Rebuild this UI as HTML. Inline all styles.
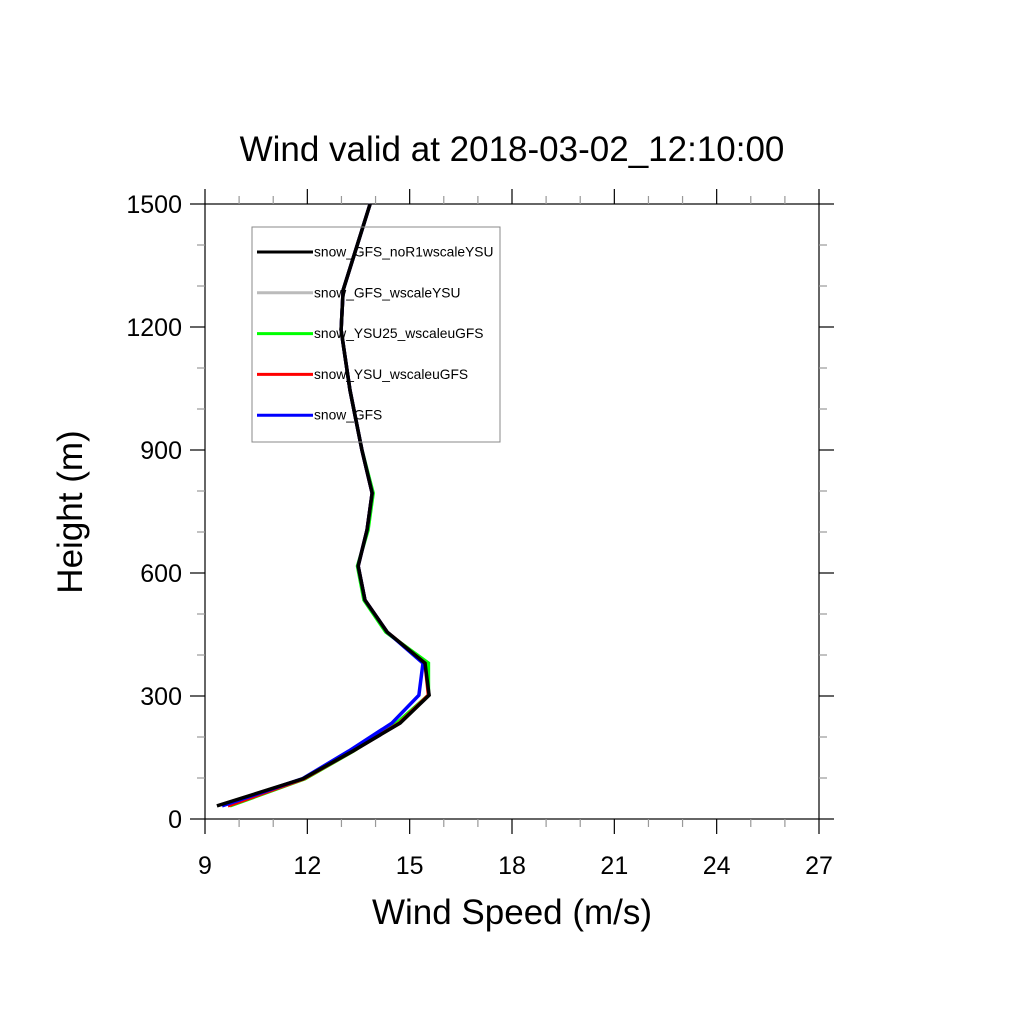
<!DOCTYPE html>
<html><head><meta charset="utf-8"><style>
body{margin:0;background:#fff}
svg{display:block;font-family:"Liberation Sans",sans-serif}
</style></head><body>
<svg id="chart" width="1024" height="1024" viewBox="0 0 1024 1024">
<text x="512" y="161" font-size="35" text-anchor="middle">Wind valid at 2018-03-02_12:10:00</text>
<text x="512" y="924" font-size="35" text-anchor="middle">Wind Speed (m/s)</text>
<text transform="translate(82,512) rotate(-90)" font-size="35" text-anchor="middle">Height (m)</text>
<g id="axes"></g>
<g id="series"></g>
<g id="legend"></g>
</svg>
<script>
const heights=[32,98,166,234,302,380,456,534,617,705,795,900,1046,1193,1290,1500];
const sGray =[9.35,11.87,13.34,14.72,15.57,15.45,14.34,13.69,13.49,13.75,13.9,13.6,13.25,12.99,13.05,13.84];
const sGreen=[9.73,11.93,13.36,14.62,15.55,15.55,14.3,13.66,13.47,13.78,13.93,13.6,13.25,12.99,13.05,13.84];
const sRed  =[9.67,11.9,13.34,14.7,15.55,15.45,14.34,13.69,13.49,13.75,13.9,13.6,13.25,12.99,13.05,13.84];
const sBlue =[9.5,11.85,13.22,14.48,15.27,15.39,14.34,13.69,13.49,13.75,13.9,13.6,13.25,12.99,13.05,13.84];
const sBlack=[9.35,11.87,13.34,14.72,15.57,15.45,14.34,13.69,13.49,13.75,13.9,13.6,13.25,12.99,13.05,13.84];
const xTicks=[9,12,15,18,21,24,27];
const yTicks=[0,300,600,900,1200,1500];
const seriesNames=["snow_GFS_noR1wscaleYSU","snow_GFS_wscaleYSU","snow_YSU25_wscaleuGFS","snow_YSU_wscaleuGFS","snow_GFS"];
const X0=205,X1=819,Y0=819,Y1=204;
const xs=v=>X0+(v-9)/(27-9)*(X1-X0);
const ys=v=>Y0-(v/1500)*(Y0-Y1);
const NS="http://www.w3.org/2000/svg";
function mk(tag,attrs,parent){const e=document.createElementNS(NS,tag);for(const k in attrs)e.setAttribute(k,attrs[k]);parent.appendChild(e);return e;}
const ax=document.getElementById('axes');
const frame=mk('rect',{x:X0,y:Y1,width:X1-X0,height:Y0-Y1,fill:'none',stroke:'#000','stroke-width':1.2},ax);


for(let v=9;v<=27;v++){const maj=(v-9)%3===0;const L=maj?15:8;const c=maj?'#000':'#999';
 const x=xs(v);
 const t1=mk('line',{x1:x,x2:x,y1:Y0,y2:Y0+L,stroke:c,'stroke-width':1.2},ax);
 
 
 const t2=mk('line',{x1:x,x2:x,y1:Y1,y2:Y1-L,stroke:c,'stroke-width':1.2},ax);
 
 }
for(let v=0;v<=1500;v+=100){const maj=v%300===0;const L=maj?15:8;const c=maj?'#000':'#999';
 const y=ys(v);
 const t1=mk('line',{x1:X0,x2:X0-L,y1:y,y2:y,stroke:c,'stroke-width':1.2},ax);
 
 
 const t2=mk('line',{x1:X1,x2:X1+L,y1:y,y2:y,stroke:c,'stroke-width':1.2},ax);
 
 }
xTicks.forEach(v=>{const t=mk('text',{x:xs(v),y:874,'font-size':25,'text-anchor':'middle'},ax);t.textContent=v;
 
 });
yTicks.forEach(v=>{const t=mk('text',{x:182,y:ys(v)+9,'font-size':25,'text-anchor':'end'},ax);t.textContent=v;
 
 });
const sg=document.getElementById('series');
const series=[[sGray,'#bbbbbb','series-gray'],[sGreen,'#00ff00','series-green'],[sRed,'#ff0000','series-red'],[sBlue,'#0000ff','series-blue'],[sBlack,'#000000','series-black']];
series.forEach(([d,c,n])=>{const p=mk('polyline',{points:d.map((v,i)=>xs(v)+','+ys(heights[i])).join(' '),fill:'none',stroke:c,'stroke-width':3.5,'stroke-linejoin':'miter'},sg);
 
 });
const lg=document.getElementById('legend');
mk('rect',{x:252,y:227,width:248,height:215,fill:'none',stroke:'#888','stroke-width':1},lg);
const lc=['#000000','#bbbbbb','#00ff00','#ff0000','#0000ff'];
seriesNames.forEach((n,i)=>{const y=252+i*40.8;
 const l=mk('line',{x1:257,x2:313,y1:y,y2:y,stroke:lc[i],'stroke-width':3},lg);
 
 
 const t=mk('text',{x:314,y:y+4.5,'font-size':13.8},lg);t.textContent=n;
 
 });
</script>
</body></html>
